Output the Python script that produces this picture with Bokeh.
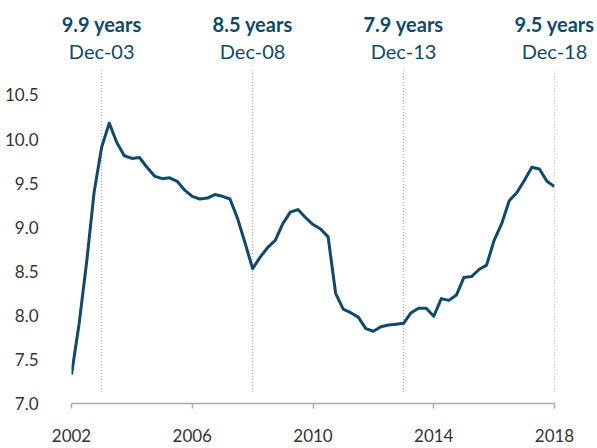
from bokeh.plotting import figure
from bokeh.models import FixedTicker, Range1d, CustomJSTickFormatter, LinearAxis
from bokeh.embed import file_html
from bokeh.resources import INLINE

# Quarterly data, Dec-02 .. Dec-18 (index on axis: 2002 .. 2018)
values = [7.33, 7.90, 8.60, 9.40, 9.91, 10.18, 9.96, 9.81, 9.78, 9.79,
          9.68, 9.58, 9.55, 9.56, 9.52, 9.42, 9.35, 9.32, 9.33, 9.37,
          9.35, 9.32, 9.10, 8.82, 8.53, 8.66, 8.77, 8.85, 9.04, 9.17,
          9.20, 9.11, 9.03, 8.98, 8.89, 8.25, 8.07, 8.03, 7.98, 7.85,
          7.82, 7.87, 7.89, 7.90, 7.91, 8.03, 8.08, 8.08, 7.99, 8.19,
          8.17, 8.23, 8.43, 8.44, 8.52, 8.57, 8.85, 9.04, 9.30, 9.39,
          9.53, 9.68, 9.66, 9.52, 9.46]
x_pos = [2002 + i / 4 for i in range(len(values))]

x_ticks = [2002, 2006, 2010, 2014, 2018]
y_ticks = [7.0, 7.5, 8.0, 8.5, 9.0, 9.5, 10.0, 10.5]

ann_x = [2003, 2008, 2013, 2018]
ann_value = ["9.9 years", "8.5 years", "7.9 years", "9.5 years"]
ann_date = ["Dec-03", "Dec-08", "Dec-13", "Dec-18"]

BLUE = "#0d4a6b"
FONT = "Lato"

p = figure(width=594, height=446, output_backend="svg", toolbar_location=None,
           x_range=Range1d(2002, 2018), y_range=Range1d(7.0, 10.8),
           min_border_left=71, min_border_right=40, min_border_top=68,
           min_border_bottom=43)
p.outline_line_color = None
p.xgrid.visible = False
p.ygrid.visible = False

# dotted reference lines
p.segment(x0=ann_x, x1=ann_x, y0=[7.13] * 4, y1=[10.78] * 4,
          line_color="#999999", line_width=1, line_dash="1 2")

p.line(x_pos, values, line_color=BLUE, line_width=3, line_join="round")

# bottom axis
p.xaxis.ticker = FixedTicker(ticks=x_ticks)
p.xaxis.minor_tick_line_color = None
p.xaxis.major_tick_in = 0
p.xaxis.major_tick_out = 5
p.xaxis.axis_line_color = "#aaaaaa"
p.xaxis.major_tick_line_color = "#aaaaaa"
p.xaxis.axis_line_width = 1.5
p.xaxis.major_tick_line_width = 1.5
p.xaxis.major_label_standoff = 20
p.xaxis.major_label_text_line_height = 1.0
p.xaxis.major_label_text_font = FONT
p.xaxis.major_label_text_font_size = "17px"
p.xaxis.major_label_text_color = "#333333"

# left axis
p.yaxis.ticker = FixedTicker(ticks=y_ticks)
p.yaxis.formatter = CustomJSTickFormatter(code="return tick.toFixed(1);")
p.yaxis.axis_line_color = None
p.yaxis.major_tick_line_color = None
p.yaxis.minor_tick_line_color = None
p.yaxis.major_tick_out = 0
p.yaxis.major_tick_in = 0
p.yaxis.major_label_standoff = 33
p.yaxis.major_label_text_font = FONT
p.yaxis.major_label_text_font_size = "17px"
p.yaxis.major_label_text_color = "#333333"


def top_axis(labels, bold, standoff):
    ax = LinearAxis(ticker=FixedTicker(ticks=ann_x),
                    major_label_overrides={x: t for x, t in zip(ann_x, labels)})
    ax.axis_line_color = None
    ax.major_tick_line_color = None
    ax.minor_tick_line_color = None
    ax.major_tick_in = 0
    ax.major_tick_out = 0
    ax.major_label_standoff = standoff
    ax.major_label_text_font = FONT
    ax.major_label_text_font_size = "20px"
    ax.major_label_text_color = BLUE
    if bold:
        ax.major_label_text_font_style = "bold"
    return ax


p.add_layout(top_axis(ann_date, False, 6), "above")
p.add_layout(top_axis(ann_value, True, 0), "above")

open("out.html", "w").write(file_html(p, INLINE))
